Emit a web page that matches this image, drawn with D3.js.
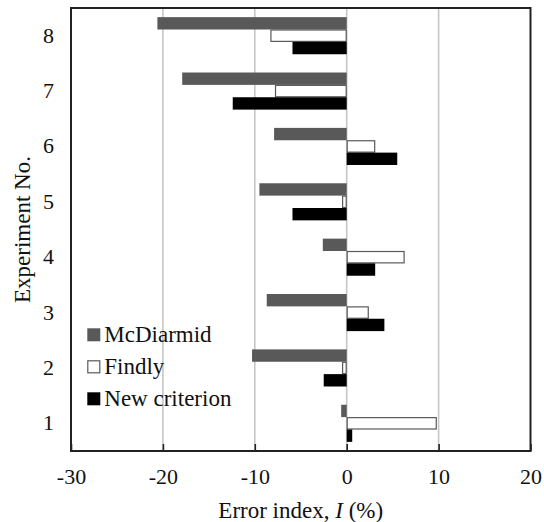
<!DOCTYPE html>
<html>
<head>
<meta charset="utf-8">
<script src="https://cdn.jsdelivr.net/npm/d3@7"></script>
<style>
  html, body { margin: 0; padding: 0; background: #fff; }
  svg { display: block; }
  svg text { font-family: 'Liberation Serif', 'Times New Roman', serif; }
</style>
</head>
<body>
<svg id="chart" width="544" height="522"></svg>
<script>
// Experiment numbers (drawn bottom to top)
const experiments = ["1", "2", "3", "4", "5", "6", "7", "8"];
// Series names in the order they are stacked inside each experiment band
const seriesNames = ["McDiarmid", "Findly", "New criterion"];
// Error index I (%) per experiment, one array per series
const mcdiarmid = [-0.6, -10.3, -8.7, -2.6, -9.5, -7.9, -17.9, -20.6];
const findly = [9.8, -0.5, 2.4, 6.3, -0.5, 3.1, -7.8, -8.3];
const newCriterion = [0.6, -2.5, 4.1, 3.1, -5.9, 5.5, -12.4, -5.9];
// Axis ticks
const xTicks = [-30, -20, -10, 0, 10, 20];
const gridTicks = [-20, -10, 0, 10];

const seriesValues = [mcdiarmid, findly, newCriterion];
const fills = ["#595959", "#ffffff", "#000000"];
const strokes = ["none", "#595959", "none"];
const serif = "'Liberation Serif', 'Times New Roman', serif";

const svg = d3.select("#chart");
const plotLeft = 71, plotRight = 530.5, plotTop = 8, plotBottom = 451;

const x = d3.scaleLinear().domain([-30, 20]).range([plotLeft, plotRight]);
const y = d3.scaleBand()
  .domain(experiments)
  .range([plotBottom, plotTop])
  .paddingInner(0.33)
  .paddingOuter(0.165);
const ySeries = d3.scaleBand().domain(seriesNames).range([0, y.bandwidth()]);

// vertical gridlines
svg.append("g").selectAll("line")
  .data(gridTicks)
  .join("line")
  .attr("x1", d => x(d)).attr("x2", d => x(d))
  .attr("y1", plotTop).attr("y2", plotBottom)
  .attr("stroke", "#c6c6c6")
  .attr("stroke-width", 1.6);

// bars
const rows = [];
experiments.forEach((e, i) => {
  seriesNames.forEach((s, j) => rows.push({ e, s, j, v: seriesValues[j][i] }));
});
svg.append("g").selectAll("rect")
  .data(rows)
  .join("rect")
  .attr("x", d => x(Math.min(0, d.v)) + (d.j === 1 ? 0.5 : 0))
  .attr("width", d => Math.abs(x(d.v) - x(0)) - (d.j === 1 ? 1 : 0))
  .attr("y", d => y(d.e) + ySeries(d.s) + (d.j === 1 ? 0.5 : 0))
  .attr("height", d => ySeries.bandwidth() - (d.j === 1 ? 1 : 0))
  .attr("fill", d => fills[d.j])
  .attr("stroke", d => strokes[d.j])
  .attr("stroke-width", 1.2);

// bottom axis with inward ticks, hyphen for negatives
const xAxis = svg.append("g")
  .attr("transform", `translate(0,${plotBottom})`)
  .call(d3.axisBottom(x)
    .tickValues(xTicks)
    .tickFormat(d => String(d))
    .tickSizeInner(-7).tickSizeOuter(0).tickPadding(17));
xAxis.attr("font-family", serif).attr("font-size", 22);
xAxis.select(".domain").remove();
xAxis.selectAll(".tick line").attr("stroke", "#222").attr("stroke-width", 1.6);
xAxis.selectAll(".tick text").attr("fill", "#111");

// left axis: labels only
const yAxis = svg.append("g")
  .attr("transform", `translate(${plotLeft},0)`)
  .call(d3.axisLeft(y).tickSize(0).tickPadding(17));
yAxis.attr("font-family", serif).attr("font-size", 22);
yAxis.select(".domain").remove();
yAxis.selectAll(".tick text").attr("fill", "#111");

// plot frame
svg.append("rect")
  .attr("x", plotLeft).attr("y", plotTop)
  .attr("width", plotRight - plotLeft).attr("height", plotBottom - plotTop)
  .attr("fill", "none")
  .attr("stroke", "#222")
  .attr("stroke-width", 2);

// axis titles
const xTitle = svg.append("text")
  .attr("x", (plotLeft + plotRight) / 2)
  .attr("y", 518)
  .attr("text-anchor", "middle")
  .attr("fill", "#111")
  .attr("font-family", serif)
  .attr("font-size", 23);
xTitle.append("tspan").text("Error index, ");
xTitle.append("tspan").attr("font-style", "italic").text("I");
xTitle.append("tspan").text(" (%)");

svg.append("text")
  .attr("transform", `translate(30,${(plotTop + plotBottom) / 2}) rotate(-90)`)
  .attr("text-anchor", "middle")
  .attr("fill", "#111")
  .attr("font-family", serif)
  .attr("font-size", 23)
  .text("Experiment No.");

// legend
const legend = svg.append("g").attr("transform", "translate(87.3,328.3)");
seriesNames.forEach((s, j) => {
  const g = legend.append("g").attr("transform", `translate(0,${j * 32})`);
  g.append("rect")
    .attr("x", j === 1 ? 0.5 : 0).attr("y", j === 1 ? 0.5 : 0)
    .attr("width", j === 1 ? 12 : 13).attr("height", j === 1 ? 12 : 13)
    .attr("fill", fills[j])
    .attr("stroke", strokes[j])
    .attr("stroke-width", 1.2);
  g.append("text")
    .attr("x", 17)
    .attr("y", 13.4)
    .attr("fill", "#111")
    .attr("font-family", serif)
    .attr("font-size", 23)
    .text(s);
});
</script>
</body>
</html>
